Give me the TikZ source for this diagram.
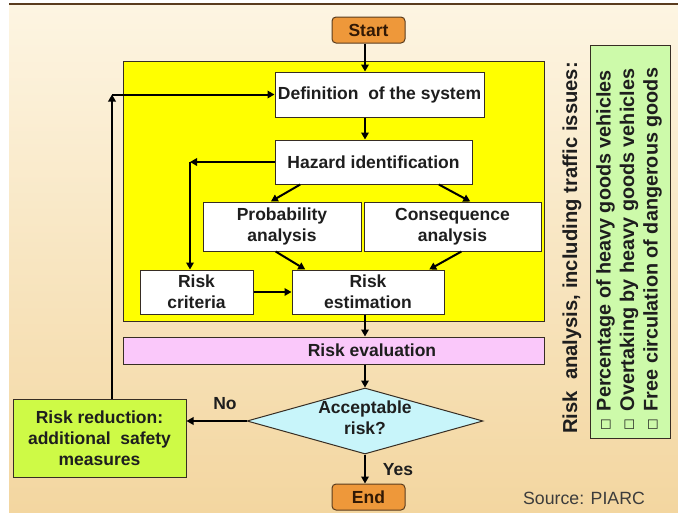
\documentclass[tikz,border=0pt]{standalone}
\usepackage{fontspec}
\setmainfont{Liberation Sans}
\newfontfamily\symfont{DejaVu Sans}
\usetikzlibrary{arrows.meta,shapes.geometric,calc}

\definecolor{ink}{RGB}{30,30,30}
\definecolor{edge}{RGB}{55,45,35}
\definecolor{bgtop}{RGB}{253,245,226}
\definecolor{bgbot}{RGB}{243,214,160}
\definecolor{startfill}{RGB}{238,152,58}
\definecolor{yel}{RGB}{255,255,0}
\definecolor{pinkfill}{RGB}{250,200,250}
\definecolor{cyanfill}{RGB}{200,245,250}
\definecolor{limefill}{RGB}{206,250,70}
\definecolor{palegreen}{RGB}{205,250,170}
\definecolor{topline}{RGB}{90,60,30}
\definecolor{termtext}{RGB}{50,25,5}

\begin{document}
\begin{tikzpicture}[x=1pt,y=-1pt,
  font=\bfseries\fontsize{17.5}{21}\selectfont,
  box/.style={draw=edge,line width=1pt,fill=white,inner sep=0pt,align=center,text=ink},
  term/.style={box,fill=startfill,rounded corners=4pt,draw=topline,text=termtext},
  flow/.style={line width=2pt,draw=black,-{Triangle[length=7pt,width=7.5pt]}},
  lbl/.style={inner sep=0pt,text=ink},
]
\useasboundingbox (0,0) rectangle (678,512);
\fill[white] (0,0) rectangle (678,512);
\shade[top color=bgtop,bottom color=bgbot] (9,4) rectangle (678,512);
\draw[topline,line width=2pt] (9,4) -- (678,4);

% named helper coordinates
\coordinate (spine) at (365,0);
\coordinate (c1) at (190,0);
\coordinate (c2) at (112,0);

% containers
\node[draw=edge,fill=yel,line width=1pt,minimum width=421pt,minimum height=260pt,inner sep=0pt] (ybox) at (333.5,191) {};
\node[box,fill=palegreen,minimum width=80pt,minimum height=393pt] (grn) at (630,241.5) {};

% nodes
\node[term,minimum width=73pt,minimum height=26pt] (start) at (368.5,30) {Start};
\node[box,minimum width=209pt,minimum height=45pt] (def) at (379.5,94.5) {Definition\ \ of the system};
\node[box,minimum width=197pt,minimum height=44pt] (haz) at (373.5,162) {Hazard identification};
\node[box,minimum width=158pt,minimum height=49pt] (prob) at (282,226.5) {Probability\\analysis};
\node[box,minimum width=177pt,minimum height=49pt] (cons) at (452.5,226.5) {Consequence\\analysis};
\node[box,minimum width=113pt,minimum height=44pt] (crit) at (196.5,292) {Risk\\criteria};
\node[box,minimum width=152pt,minimum height=44pt] (est) at (368,292) {Risk\\estimation};
\node[box,fill=pinkfill,minimum width=421pt,minimum height=27pt] (eval) at (333.5,350.5) {};
\node[lbl] (evaltext) at (372,350.5) {Risk evaluation};
\node[draw=edge,line width=1pt,fill=cyanfill,diamond,minimum width=236pt,minimum height=66pt,inner sep=0pt] (acc) at (365,421) {};
\node[lbl,align=center] (acctext) at (365,418) {Acceptable\\risk?};
\node[box,fill=limefill,minimum width=173pt,minimum height=78pt] (red) at (99.5,438) {Risk reduction:\\additional\ \ safety\\measures};
\node[term,minimum width=73pt,minimum height=26pt] (end) at (368.5,497) {End};

% labels
\node[lbl] (no) at (225,404) {No};
\node[lbl] (yes) at (398,470) {Yes};
\node[lbl,font=\mdseries\fontsize{17.7}{20}\selectfont,text={rgb,255:red,60;green,60;blue,60}] (src) at (584,498) {Source: PIARC};

% rotated texts
\node[lbl,rotate=90,anchor=west,font=\bfseries\fontsize{20.2}{22}\selectfont] (title) at (572,434) {Risk\ \ analysis, including traffic issues:};
\node[lbl,rotate=90,anchor=west,align=left,font=\bfseries\fontsize{19.8}{23.5}\selectfont] (issues) at (629,431)
 {{\symfont\mdseries\fontsize{13}{13}\selectfont ☐}\hspace{8pt}Percentage of heavy goods vehicles\\
  {\symfont\mdseries\fontsize{13}{13}\selectfont ☐}\hspace{8pt}Overtaking by heavy goods vehicles\\
  {\symfont\mdseries\fontsize{13}{13}\selectfont ☐}\hspace{8pt}Free circulation of dangerous goods};

% connectors
\draw[flow] (start.south -| spine) -- (def.north -| spine);
\draw[flow] (def.south -| spine) -- (haz.north -| spine);
\draw[flow] (haz.west) -- (haz.west -| c1);
\draw[flow] (haz.west -| c1) -- (crit.north -| c1);
\draw[flow] ($(haz.south west)!.13!(haz.south east)$) -- ($(prob.north west)!.43!(prob.north east)$);
\draw[flow] ($(haz.south west)!.83!(haz.south east)$) -- ($(cons.north west)!.60!(cons.north east)$);
\draw[flow] ($(prob.south west)!.46!(prob.south east)$) -- ($(est.north west)!.09!(est.north east)$);
\draw[flow] ($(cons.south west)!.55!(cons.south east)$) -- ($(est.north west)!.90!(est.north east)$);
\draw[flow] (crit.east) -- (est.west);
\draw[flow] (est.south -| spine) -- (eval.north -| spine);
\draw[flow] (eval.south -| spine) -- (acc.north);
\draw[flow] (acc.west) -- (acc.west -| red.east);
\draw[flow] (acc.south) -- (end.north -| acc.south);
\draw[flow] (red.north -| c2) -- (def.west -| c2);
\draw[flow] (def.west -| c2) -- (def.west);
\end{tikzpicture}
\end{document}
